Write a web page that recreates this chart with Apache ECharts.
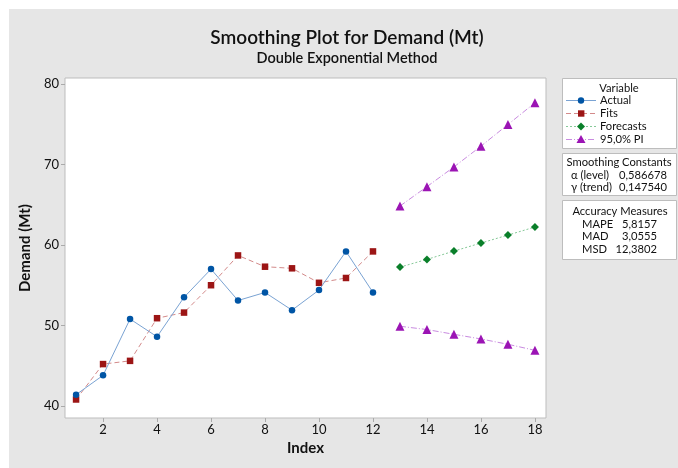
<!DOCTYPE html>
<html>
<head>
<meta charset="utf-8">
<script src="https://cdn.jsdelivr.net/npm/echarts@6/dist/echarts.min.js"></script>
<style>
  html, body { margin: 0; padding: 0; background: #ffffff; }
  #bg { position: absolute; left: 9px; top: 9px; width: 669px; height: 459px; background: #e6e6e6; }
  #chart { position: absolute; left: 0; top: 0; width: 678px; height: 468px; }
</style>
</head>
<body>
<div id="bg"></div>
<div id="chart"></div>
<script>
// ---- data ----
var actualIndex = [1, 2, 3, 4, 5, 6, 7, 8, 9, 10, 11, 12];
var actual = [41.4, 43.8, 50.8, 48.6, 53.5, 57.0, 53.1, 54.1, 51.9, 54.4, 59.2, 54.1];
var fits = [40.8, 45.2, 45.6, 50.9, 51.6, 55.0, 58.7, 57.3, 57.1, 55.3, 55.9, 59.2];
var forecastIndex = [13, 14, 15, 16, 17, 18];
var forecasts = [57.25, 58.21, 59.24, 60.24, 61.23, 62.23];
var upperPI = [64.84, 67.25, 69.70, 72.28, 74.97, 77.67];
var lowerPI = [49.90, 49.49, 48.90, 48.32, 47.66, 46.91];
var xTicks = [2, 4, 6, 8, 10, 12, 14, 16, 18];
var yTicks = [40, 50, 60, 70, 80];
var legendNames = ['Actual', 'Fits', 'Forecasts', '95,0% PI'];
var smoothingLabels = ['\u03b1 (level)', '\u03b3 (trend)'];
var smoothingValues = ['0,586678', '0,147540'];
var accuracyLabels = ['MAPE', 'MAD', 'MSD'];
var accuracyValues = ['5,8157', '3,0555', '12,3802'];
var titleText = 'Smoothing Plot for Demand (Mt)';
var subtitleText = 'Double Exponential Method';

function pairs(xs, ys) { return xs.map(function (x, i) { return [x, ys[i]]; }); }

var FONT = 'Lato';
var C = {
  actual: '#0055a5', actualLine: '#7aa3d3',
  fits: '#9c1515', fitsLine: '#d38a8a',
  fc: '#0a7f2a', fcLine: '#86c998',
  pi: '#9b14b4', piLine: '#c98be0'
};

var chart = echarts.init(document.getElementById('chart'), null, { renderer: 'canvas' });

var bx = 562, bw = 114;
var LF = '11.2px ' + FONT;
var g = [];
g.push({ type: 'text', x: 347, y: 38, style: { text: titleText, font: '600 19px ' + FONT, fill: '#111', textAlign: 'center', textVerticalAlign: 'middle' } });
g.push({ type: 'text', x: 347, y: 58, style: { text: subtitleText, font: '600 14.5px ' + FONT, fill: '#111', textAlign: 'center', textVerticalAlign: 'middle' } });

// box 1
g.push({ type: 'rect', shape: { x: bx + 0.5, y: 78.5, width: bw, height: 70 }, style: { fill: '#fff', stroke: '#bdbdbd', lineWidth: 1 } });
g.push({ type: 'text', x: 619, y: 88, style: { text: 'Variable', font: LF, fill: '#111', textAlign: 'center', textVerticalAlign: 'middle' } });
var rowY = [100.5, 113.5, 126.5, 139.5];
var lineCols = [C.actualLine, C.fitsLine, C.fcLine, C.piLine];
var dashes = [null, [5, 3], [2, 2], [6, 2, 1, 2]];
for (var i = 0; i < 4; i++) {
  g.push({ type: 'line', shape: { x1: 566, y1: rowY[i], x2: 596, y2: rowY[i] }, style: { stroke: lineCols[i], lineWidth: 1, lineDash: dashes[i] } });
  g.push({ type: 'text', x: 600, y: rowY[i], style: { text: legendNames[i], font: LF, fill: '#111', textAlign: 'left', textVerticalAlign: 'middle' } });
}
g.push({ type: 'circle', shape: { cx: 581, cy: rowY[0], r: 3.2 }, style: { fill: C.actual } });
g.push({ type: 'rect', shape: { x: 578, y: rowY[1] - 3.2, width: 6.4, height: 6.4 }, style: { fill: C.fits } });
g.push({ type: 'polygon', shape: { points: [[581, rowY[2] - 4], [585, rowY[2]], [581, rowY[2] + 4], [577, rowY[2]]] }, style: { fill: C.fc } });
g.push({ type: 'polygon', shape: { points: [[581, rowY[3] - 4.5], [585.5, rowY[3] + 3.5], [576.5, rowY[3] + 3.5]] }, style: { fill: C.pi } });

// box 2
g.push({ type: 'rect', shape: { x: bx + 0.5, y: 153.5, width: bw, height: 42 }, style: { fill: '#fff', stroke: '#bdbdbd', lineWidth: 1 } });
g.push({ type: 'text', x: 619, y: 162.5, style: { text: 'Smoothing Constants', font: LF, fill: '#111', textAlign: 'center', textVerticalAlign: 'middle' } });
for (var j = 0; j < 2; j++) {
  g.push({ type: 'text', x: 571, y: 175 + j * 12.5, style: { text: smoothingLabels[j], font: LF, fill: '#111', textAlign: 'left', textVerticalAlign: 'middle' } });
  g.push({ type: 'text', x: 667, y: 175 + j * 12.5, style: { text: smoothingValues[j], font: LF, fill: '#111', textAlign: 'right', textVerticalAlign: 'middle' } });
}

// box 3
g.push({ type: 'rect', shape: { x: bx + 0.5, y: 200.5, width: bw, height: 59 }, style: { fill: '#fff', stroke: '#bdbdbd', lineWidth: 1 } });
g.push({ type: 'text', x: 620, y: 211, style: { text: 'Accuracy Measures', font: LF, fill: '#111', textAlign: 'center', textVerticalAlign: 'middle' } });
for (var k = 0; k < 3; k++) {
  g.push({ type: 'text', x: 582, y: 224 + k * 12.8, style: { text: accuracyLabels[k], font: LF, fill: '#111', textAlign: 'left', textVerticalAlign: 'middle' } });
  g.push({ type: 'text', x: 657, y: 224 + k * 12.8, style: { text: accuracyValues[k], font: LF, fill: '#111', textAlign: 'right', textVerticalAlign: 'middle' } });
}

var option = {
  animation: false,
  backgroundColor: 'transparent',
  textStyle: { fontFamily: FONT },
  grid: { left: 65, top: 78, right: 132, bottom: 50, show: true, backgroundColor: '#ffffff', borderColor: '#bdbdbd', borderWidth: 1 },
  xAxis: {
    type: 'value', min: 0.59, max: 18.41,
    name: 'Index', nameLocation: 'middle', nameGap: 22,
    nameTextStyle: { fontSize: 15, fontWeight: 'bold', color: '#111', fontFamily: FONT },
    axisLine: { show: false },
    splitLine: { show: false },
    axisTick: { show: true, length: 4, lineStyle: { color: '#aaa' }, customValues: xTicks },
    axisLabel: { fontSize: 13, color: '#111', margin: 5, customValues: xTicks }
  },
  yAxis: {
    type: 'value', min: 38.5, max: 80.75,
    name: 'Demand (Mt)', nameLocation: 'middle', nameGap: 30, nameRotate: 90,
    nameTextStyle: { fontSize: 15, fontWeight: 'bold', color: '#111', fontFamily: FONT },
    axisLine: { show: false },
    splitLine: { show: false },
    axisTick: { show: true, length: 4, lineStyle: { color: '#aaa' }, customValues: yTicks },
    axisLabel: { fontSize: 13, color: '#111', margin: 6, customValues: yTicks }
  },
  graphic: g,
  series: [
    { name: 'Actual', type: 'line', data: pairs(actualIndex, actual), symbol: 'circle', symbolSize: 6.5,
      itemStyle: { color: C.actual }, lineStyle: { color: C.actualLine, width: 1 }, z: 4 },
    { name: 'Fits', type: 'line', data: pairs(actualIndex, fits), symbol: 'rect', symbolSize: 6.5,
      itemStyle: { color: C.fits }, lineStyle: { color: C.fitsLine, width: 1, type: [5, 3] }, z: 3 },
    { name: 'Forecasts', type: 'line', data: pairs(forecastIndex, forecasts), symbol: 'diamond', symbolSize: 8,
      itemStyle: { color: C.fc }, lineStyle: { color: C.fcLine, width: 1, type: [2, 2] }, z: 3 },
    { name: 'Upper PI', type: 'line', data: pairs(forecastIndex, upperPI), symbol: 'triangle', symbolSize: 9,
      itemStyle: { color: C.pi }, lineStyle: { color: C.piLine, width: 1, type: [6, 2, 1, 2] }, z: 3 },
    { name: 'Lower PI', type: 'line', data: pairs(forecastIndex, lowerPI), symbol: 'triangle', symbolSize: 9,
      itemStyle: { color: C.pi }, lineStyle: { color: C.piLine, width: 1, type: [6, 2, 1, 2] }, z: 3 }
  ]
};
chart.setOption(option);
</script>
</body>
</html>
